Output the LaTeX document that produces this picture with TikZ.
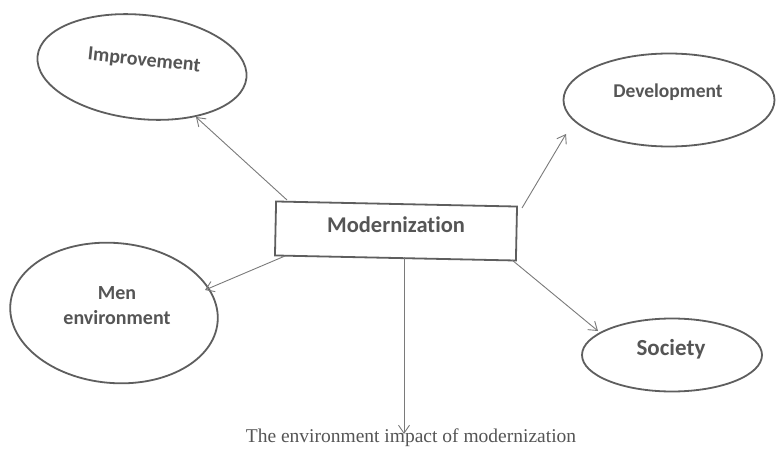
\documentclass[tikz,border=0pt]{standalone}
\usepackage{fontspec}
\setmainfont{Carlito}[Ligatures=NoCommon]
\newfontfamily\capfont{Liberation Serif}
\usetikzlibrary{arrows.meta,shapes.geometric}
\definecolor{lineg}{HTML}{5E5E5E}
\definecolor{arrg}{HTML}{7A7A7A}
\definecolor{txtg}{HTML}{555555}
\begin{document}
\begin{tikzpicture}[x=1pt,y=-1pt,
  oval/.style={draw=lineg,line width=1.8pt,ellipse,inner sep=0pt},
  lbl/.style={text=txtg,font=\bfseries\fontsize{20}{24}\selectfont,align=center,inner sep=0pt},
  conn/.style={draw=arrg,line width=0.9pt,-{Straight Barb[length=8pt,width=11pt]}}]
\useasboundingbox[fill=white] (0,0) rectangle (780,460);
% boxes
\node[oval,minimum width=210pt,minimum height=104pt,rotate=-6] (imp) at (142,67) {};
\node[lbl,rotate=-6] (impt) at (144,61) {Improvement};
\node[oval,minimum width=211pt,minimum height=93pt] (dev) at (669,100) {};
\node[lbl,font=\bfseries\fontsize{19.5}{24}\selectfont] (devt) at (668,92) {Development};
\node[draw=lineg,line width=1.8pt,minimum width=241pt,minimum height=54pt,inner sep=0pt,rotate=-1.2] (mod) at (396,231) {};
\node[lbl,font=\bfseries\fontsize{22.5}{26}\selectfont] (modt) at (396,225) {Modernization};
\node[oval,minimum width=208pt,minimum height=140pt,rotate=-5] (men) at (114,313) {};
\node[lbl,font=\bfseries\fontsize{20}{25}\selectfont] (ment) at (117,306) {Men\\environment};
\node[oval,minimum width=180pt,minimum height=73pt] (soc) at (672,355) {};
\node[lbl,font=\bfseries\fontsize{23}{27}\selectfont] (soct) at (671,349) {Society};
\node[text=txtg,font=\capfont\fontsize{19.5}{23}\selectfont,inner sep=0pt,anchor=base] (cap) at (411,442) {The environment impact of modernization};
% connector ends
\coordinate (s1) at (287,200); \coordinate (e1) at (196,117);
\coordinate (s2) at (522,208); \coordinate (e2) at (566,134);
\coordinate (s3) at (285,256); \coordinate (e3) at (205,290);
\coordinate (s4) at (512,260); \coordinate (e4) at (598,331);
\coordinate (s5) at (404,257); \coordinate (e5) at (404,434);
\draw[conn] (s1) -- (e1);
\draw[conn] (s2) -- (e2);
\draw[conn] (s3) -- (e3);
\draw[conn] (s4) -- (e4);
\draw[conn] (s5) -- (e5);
\end{tikzpicture}
\end{document}
